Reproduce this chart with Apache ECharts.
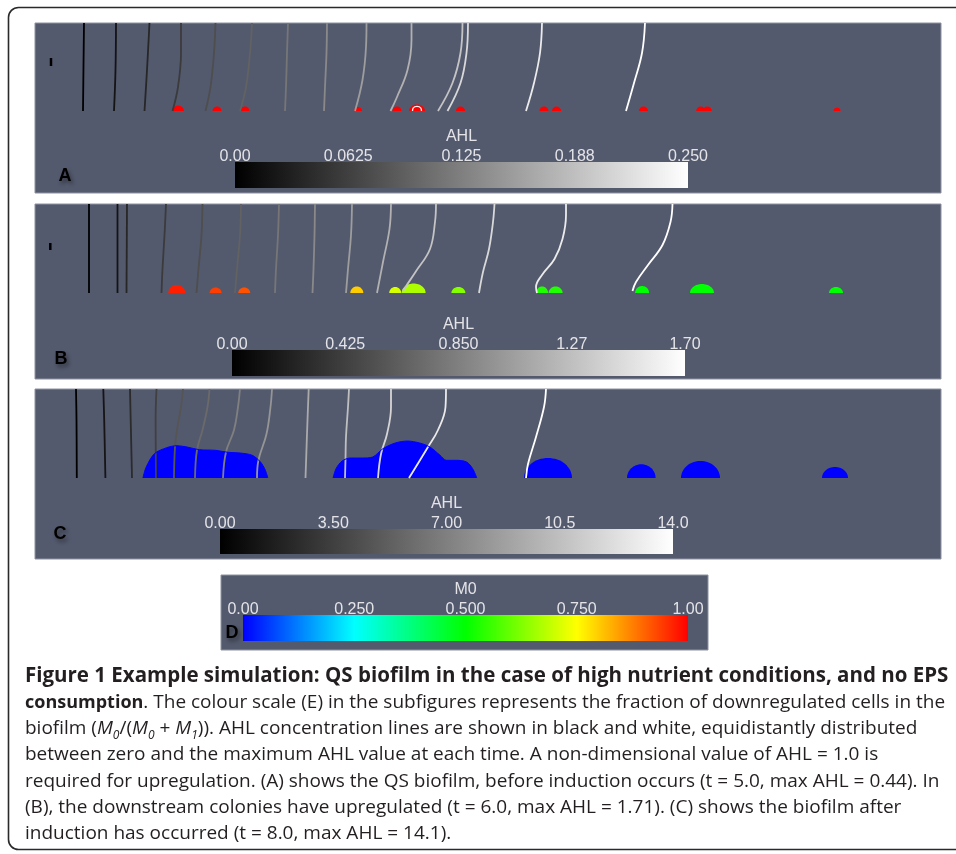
<!DOCTYPE html>
<html>
<head>
<meta charset="utf-8">
<title>QS biofilm simulation</title>
<script src="https://cdn.jsdelivr.net/npm/echarts@6/dist/echarts.min.js"></script>
<style>
  html, body { margin: 0; padding: 0; background: #fff; }
  #chart { width: 956px; height: 854px; }
</style>
</head>
<body>
<div id="chart"></div>
<script>
// colour scales
var m0Colors = ['#0000ff', '#00ffff', '#00ff00', '#ffff00', '#ff0000'];
var ahlColors = ['#000000', '#ffffff'];

// colour bar ranges and tick labels
var ahlMaxA = 0.25, ahlMaxB = 1.70, ahlMaxC = 14.0, m0Max = 1.0;
var ahlTicksA = ['0.00', '0.0625', '0.125', '0.188', '0.250'];
var ahlTicksB = ['0.00', '0.425', '0.850', '1.27', '1.70'];
var ahlTicksC = ['0.00', '3.50', '7.00', '10.5', '14.0'];
var m0Ticks = ['0.00', '0.250', '0.500', '0.750', '1.00'];

// AHL contour lines, [x along substratum, height above it], low level -> high level
var contoursA = [
  [[49, 88], [48.5, 45], [48, 0]],
  [[81, 88], [80.5, 41], [79, 0]],
  [[114.5, 88], [112, 41], [109.5, 0]],
  [[146, 88], [146, 58], [143, 24], [137.5, 0]],
  [[180.5, 88], [179, 58], [175.5, 24], [170.5, 0]],
  [[217, 88], [215, 58], [211, 24], [205, 0]],
  [[253, 88], [252, 58], [251, 24], [250, 0]],
  [[292, 88], [291.5, 58], [290, 24], [289, 0]],
  [[331.5, 88], [331, 64], [327.5, 31], [320, 0]],
  [[376.5, 88], [376.5, 71], [372.5, 41], [362, 14], [355.5, 0]],
  [[427.5, 88], [425.5, 58], [417.5, 28], [403, 0]],
  [[433, 88], [431.5, 58], [425.5, 28], [412.5, 0]],
  [[507, 88], [505, 58], [499, 28], [491, 0]],
  [[610, 88], [607, 58], [599, 28], [591, 0]]
];
// closed contour over the colony at x = 382 in A
var ringA = [[377.5, 0], [378.3, 3.2], [382, 4.6], [385.7, 3.2], [386.5, 0]];
var contoursB = [
  [[54, 89], [54, 0]],
  [[82.5, 89], [82.5, 0]],
  [[92, 89], [91.5, 0]],
  [[131, 89], [129.5, 58], [127.5, 24], [126.5, 0]],
  [[167.5, 89], [166.5, 58], [163.5, 24], [161.5, 0]],
  [[206, 89], [205, 58], [202, 24], [200, 0]],
  [[244, 89], [243, 58], [241, 24], [240, 0]],
  [[280, 89], [279.5, 58], [278.5, 24], [277.5, 0]],
  [[317, 89], [316, 58], [313, 24], [311, 0]],
  [[356, 89], [354.5, 64], [348, 31], [342, 0]],
  [[401, 89], [400, 71], [395, 44], [380.5, 21], [370.5, 6], [368, 2]],
  [[459.5, 89], [458, 71], [454, 44], [448, 21], [444, 0]],
  [[531, 89], [531, 78], [527.5, 54], [519.5, 34], [507, 18], [501, 6], [502, 0]],
  [[637.5, 89], [635.5, 71], [627.5, 48], [613, 28], [601, 11], [597.5, 2]]
];
var contoursC = [
  [[41, 89], [41.5, 58], [41.8, 0]],
  [[68.3, 89], [69.2, 58], [70.4, 0]],
  [[95, 89], [95.7, 58], [97, 0]],
  [[121.5, 89], [120.6, 58], [121, 0]],
  [[148, 89], [146, 71], [142, 48], [140, 31], [139, 0]],
  [[174.5, 89], [172.5, 71], [167.5, 48], [162, 28], [160, 0]],
  [[205, 89], [203, 71], [199, 48], [191, 26], [188, 0]],
  [[237, 89], [235.5, 71], [231.5, 44], [223.5, 18], [222, 0]],
  [[273.7, 89], [272.5, 58], [270.5, 0]],
  [[314, 89], [313, 71], [311, 41], [310.5, 19], [310, 0]],
  [[356, 89], [356, 71], [352, 44], [346, 24], [343, 0]],
  [[411, 89], [410.5, 71], [403, 48], [393, 31], [376.5, 4], [374, 0]],
  [[511, 89], [509, 71], [501, 41], [493, 14], [491, 0]]
];

// colonies as domes: [centre x, half width, height, M0 fraction]
var coloniesA = [
  [143, 6, 5.5, 1], [182, 4.5, 4.5, 1], [210, 4.5, 4.5, 1], [323, 4, 4, 1],
  [362, 4.5, 4.5, 1], [382, 8, 6.5, 1], [425.5, 4.5, 4.5, 1], [509, 4.5, 4.5, 1],
  [521.5, 4.5, 4.5, 1], [608.5, 4.5, 4.5, 1], [665.7, 4.5, 4.5, 1], [672.3, 4.5, 4.5, 1],
  [802, 3.5, 3.5, 1]
];
var coloniesB = [
  [141.8, 8.5, 8, 0.97], [180.6, 6, 5.5, 0.94], [209.2, 6, 5.5, 0.92],
  [321.8, 6.5, 6.5, 0.8], [360.2, 6, 6, 0.71], [378.6, 12, 9.5, 0.67],
  [423.4, 7, 6, 0.63], [507.1, 6, 6.5, 0.53], [520.6, 7, 6.5, 0.53],
  [607.1, 7, 7, 0.5], [667, 12, 9, 0.5], [801, 7, 6, 0.5]
];
var coloniesC = [
  [513, 24, 20, 0], [606.3, 14.3, 13.7, 0], [665.5, 19.5, 17, 0], [800, 13, 11, 0]
];
// the two merged colonies of C, surface profile [x, height]
var colonyC1 = [
  [107.9, 0], [111.2, 11], [119.4, 24.3], [131.6, 30.3], [141.8, 32.3], [152, 31],
  [164.3, 28.3], [180.6, 27.7], [192.8, 25.7], [205.1, 25], [217.3, 22.7],
  [225.5, 16], [230.4, 7.7], [232.8, 0]
];
var colonyC2 = [
  [298.1, 0], [301, 9.3], [307.1, 17], [315.3, 20], [327.5, 20], [337.7, 21],
  [347.9, 29.3], [360.2, 35], [372.4, 37], [384.7, 35], [394.9, 31], [405.1, 22.7],
  [411.2, 17.7], [421.4, 17.7], [431.6, 16], [437.7, 9.3], [441.8, 0]
];
// small scale marks at the left of A and B
var markA = [[16, 45], [16, 53]];
var markB = [[15.3, 43], [15.3, 50]];

var captionLines = [
  '{b|Figure 1 Example simulation: QS biofilm in the case of high nutrient conditions, and no EPS}',
  '{c|consumption}. The colour scale (E) in the subfigures represents the fraction of downregulated cells in the',
  'biofilm ({i|M}{s|0}/({i|M}{s|0} + {i|M}{s|1})). AHL concentration lines are shown in black and white, equidistantly distributed',
  'between zero and the maximum AHL value at each time. A non-dimensional value of AHL = 1.0 is',
  'required for upregulation. (A) shows the QS biofilm, before induction occurs (t = 5.0, max AHL = 0.44). In',
  '(B), the downstream colonies have upregulated (t = 6.0, max AHL = 1.71). (C) shows the biofilm after',
  'induction has occurred (t = 8.0, max AHL = 14.1).'
];

var panelBg = '#545a6e';
var labelColor = '#e4e4e8';

function m0Color(v) { return echarts.color.lerp(v, m0Colors); }

function renderDome(params, api) {
  var cx = api.value(0), rx = api.value(1), ry = api.value(2);
  var pts = [];
  for (var i = 0; i <= 32; i++) {
    var a = Math.PI * i / 32;
    pts.push(api.coord([cx + rx * Math.cos(a), ry * Math.sin(a)]));
  }
  return { type: 'polygon', shape: { points: pts }, style: { fill: m0Color(api.value(3)) } };
}

function gradientBar(colors) {
  var stops = colors.map(function (c, i) { return { offset: i / (colors.length - 1), color: c }; });
  return function (params, api) {
    var p0 = api.coord([api.value(0), 0]);
    var p1 = api.coord([api.value(1), 1]);
    return {
      type: 'rect',
      shape: { x: p0[0], y: p1[1], width: p1[0] - p0[0], height: p0[1] - p1[1] },
      style: { fill: new echarts.graphic.LinearGradient(0, 0, 1, 0, stops) }
    };
  };
}

var grids = [
  { left: 35, top: 23, width: 906, height: 170 },
  { left: 35, top: 204, width: 906, height: 175 },
  { left: 35, top: 389, width: 906, height: 170 },
  { left: 221, top: 575, width: 487, height: 75 },
  { left: 235, top: 162, width: 453, height: 26 },
  { left: 232, top: 350, width: 453, height: 26 },
  { left: 220, top: 529, width: 453, height: 25 },
  { left: 243, top: 615, width: 445, height: 26 }
].map(function (g, i) {
  g.show = i < 4;
  g.backgroundColor = panelBg;
  g.borderColor = '#8e92a2';
  g.borderWidth = i < 4 ? 1 : 0;
  return g;
});

var yRanges = [[-82, 88], [-86, 89], [-81, 89], [0, 1]];
var xAxes = [], yAxes = [];
yRanges.forEach(function (r, i) {
  xAxes.push({ gridIndex: i, type: 'value', min: 0, max: i < 3 ? 906 : 1, show: false });
  yAxes.push({ gridIndex: i, type: 'value', min: r[0], max: r[1], show: false });
});

var bars = [
  { max: ahlMaxA, ticks: ahlTicksA, name: 'AHL', colors: ahlColors },
  { max: ahlMaxB, ticks: ahlTicksB, name: 'AHL', colors: ahlColors },
  { max: ahlMaxC, ticks: ahlTicksC, name: 'AHL', colors: ahlColors },
  { max: m0Max, ticks: m0Ticks, name: 'M0', colors: m0Colors }
];
var series = [];
bars.forEach(function (b, k) {
  var gi = 4 + k;
  xAxes.push({
    gridIndex: gi, type: 'value', min: 0, max: b.max, interval: b.max / 4, position: 'top',
    axisLine: { show: false }, axisTick: { show: false }, splitLine: { show: false },
    axisLabel: {
      color: labelColor, fontSize: 16, fontFamily: 'Liberation Sans', margin: -3,
      showMinLabel: true, showMaxLabel: true,
      formatter: function (v) { return b.ticks[Math.round(v / b.max * 4)]; }
    },
    name: b.name, nameLocation: 'middle', nameGap: 17,
    nameTextStyle: { color: labelColor, fontSize: 16, fontFamily: 'Liberation Sans' }
  });
  yAxes.push({ gridIndex: gi, type: 'value', min: 0, max: 1, show: false });
  series.push({
    type: 'custom', xAxisIndex: gi, yAxisIndex: gi, silent: true,
    renderItem: gradientBar(b.colors), data: [[0, b.max]]
  });
});

[contoursA, contoursB, contoursC].forEach(function (set, p) {
  set.forEach(function (line, k) {
    series.push({
      type: 'line', xAxisIndex: p, yAxisIndex: p, data: line, smooth: 0.4,
      symbol: 'none', silent: true,
      lineStyle: { color: echarts.color.lerp(k / (set.length - 1), ahlColors), width: 1.8 }
    });
  });
});

[markA, markB].forEach(function (m, p) {
  series.push({
    type: 'line', xAxisIndex: p, yAxisIndex: p, data: m, symbol: 'none', silent: true,
    lineStyle: { color: '#000', width: 2.5 }
  });
});

[colonyC1, colonyC2].forEach(function (c) {
  series.push({
    type: 'line', xAxisIndex: 2, yAxisIndex: 2, data: c, smooth: 0.3, symbol: 'none',
    silent: true, z: 3,
    lineStyle: { color: m0Color(0), width: 1 },
    areaStyle: { color: m0Color(0), opacity: 1 }
  });
});

[coloniesA, coloniesB, coloniesC].forEach(function (c, p) {
  series.push({
    type: 'custom', xAxisIndex: p, yAxisIndex: p, silent: true, z: 3,
    renderItem: renderDome, data: c
  });
});

series.push({
  type: 'line', xAxisIndex: 0, yAxisIndex: 0, data: ringA, smooth: 0.5, symbol: 'none',
  silent: true, z: 4, lineStyle: { color: '#f4f4f4', width: 1.3 }
});

var letters = [['A', 65, 176], ['B', 61, 359], ['C', 60, 534], ['D', 232, 633]];

var chart = echarts.init(document.getElementById('chart'));
chart.setOption({
  animation: false,
  backgroundColor: '#ffffff',
  grid: grids,
  xAxis: xAxes,
  yAxis: yAxes,
  series: series,
  title: [{
    left: 25, top: 663, padding: 0,
    text: captionLines.join('\n'),
    textStyle: {
      fontFamily: 'Open Sans', fontSize: 19, fontWeight: 'normal', color: '#231f20', lineHeight: 26.3,
      rich: {
        b: { fontFamily: 'Open Sans', fontSize: 20.5, fontWeight: 'bold', color: '#231f20', lineHeight: 26.3 },
        c: { fontFamily: 'Open Sans', fontSize: 18, fontWeight: 'bold', color: '#231f20', lineHeight: 26.3 },
        i: { fontFamily: 'Open Sans', fontSize: 19, fontStyle: 'italic', color: '#231f20', lineHeight: 26.3 },
        s: { fontFamily: 'Open Sans', fontSize: 12, fontStyle: 'italic', color: '#231f20', lineHeight: 14, verticalAlign: 'bottom' }
      }
    }
  }],
  graphic: [{
    type: 'rect', silent: true, z: -10,
    shape: { x: 8.5, y: 7.5, width: 1000, height: 842, r: 10 },
    style: { fill: 'none', stroke: '#2a2a2a', lineWidth: 1.6 }
  }].concat(letters.map(function (l) {
    return {
      type: 'text', x: l[1], y: l[2], z: 100, silent: true,
      style: {
        text: l[0], fontSize: 18, fontWeight: 'bold', fontFamily: 'Liberation Sans', fill: '#000',
        align: 'center', verticalAlign: 'middle',
        textShadowColor: 'rgba(0,0,0,0.45)', textShadowBlur: 4, textShadowOffsetX: 2, textShadowOffsetY: 3
      }
    };
  }))
});
</script>
</body>
</html>
